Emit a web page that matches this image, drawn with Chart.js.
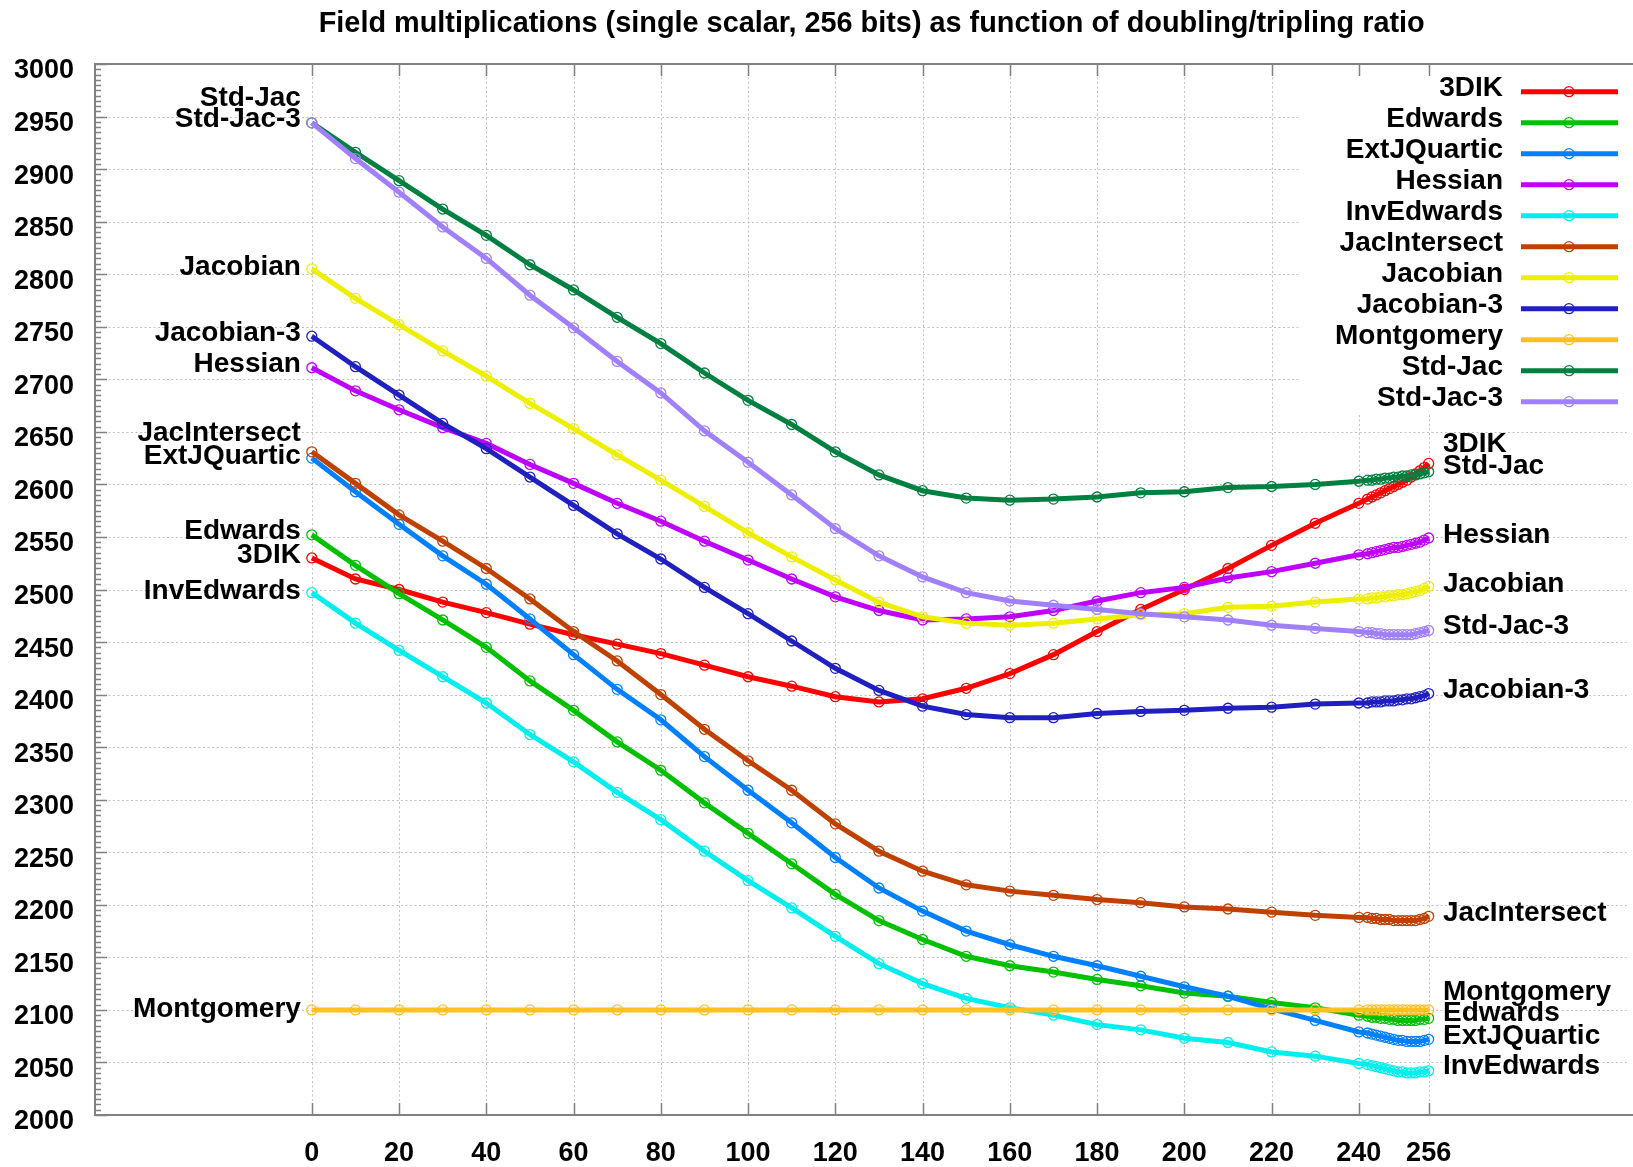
<!DOCTYPE html>
<html>
<head>
<meta charset="utf-8">
<script src="https://cdn.jsdelivr.net/npm/chart.js@4.4.1/dist/chart.umd.min.js"></script>
<style>
html,body{margin:0;padding:0;background:#ffffff;}
canvas{display:block;}
</style>
</head>
<body>
<canvas id="c" width="1633" height="1167"></canvas>
<script>
const chartTitle = "Field multiplications (single scalar, 256 bits) as function of doubling/tripling ratio";

const xValues = [0,10,20,30,40,50,60,70,80,90,100,110,120,130,140,150,160,170,180,190,200,210,220,230,240,
                 242,243,244,245,246,247,248,249,250,251,252,253,254,255,256];
const xTickValues = [0,20,40,60,80,100,120,140,160,180,200,220,240,256];

const seriesNames = ["3DIK","Edwards","ExtJQuartic","Hessian","InvEdwards","JacIntersect","Jacobian","Jacobian-3","Montgomery","Std-Jac","Std-Jac-3"];
const seriesColors = ["#ff0000","#00c000","#0080ff","#c000ff","#00eeee","#c04000","#eeee00","#2020c0","#ffc020","#008040","#a080ff"];

const vals3DIK = [2530,2510,2500,2488,2478,2467,2457,2448,2439,2428,2417,2408,2398,2393,2396,2406,2420,2438,2460,2481,2500,2520,2542,2563,2582,
                  2586,2588,2590,2592,2594,2596,2598,2600,2602,2604,2607,2610,2613,2616,2620];
const valsEdwards = [2552,2523,2496,2471,2445,2413,2385,2355,2328,2297,2268,2239,2210,2185,2167,2151,2142,2136,2129,2123,2116,2113,2107,2102,2095,
                     2094,2093,2093,2092,2092,2091,2091,2090,2090,2090,2090,2090,2091,2091,2092];
const valsExtJQuartic = [2625,2593,2562,2532,2505,2472,2438,2405,2376,2341,2309,2278,2245,2216,2194,2175,2162,2151,2142,2132,2122,2113,2101,2090,2079,
                         2078,2077,2076,2075,2074,2073,2072,2071,2071,2070,2070,2070,2070,2071,2072];
const valsHessian = [2711,2689,2671,2654,2639,2619,2601,2582,2565,2546,2528,2510,2493,2480,2471,2472,2474,2480,2489,2497,2502,2511,2517,2525,2533,
                     2534,2535,2536,2537,2538,2539,2540,2540,2541,2542,2543,2544,2545,2547,2549];
const valsInvEdwards = [2497,2468,2442,2417,2392,2362,2336,2307,2281,2251,2223,2197,2170,2144,2125,2111,2102,2095,2086,2081,2073,2069,2060,2056,2049,
                        2048,2047,2046,2045,2044,2043,2042,2041,2041,2040,2040,2040,2041,2041,2042];
const valsJacIntersect = [2631,2601,2571,2546,2520,2491,2460,2432,2400,2367,2337,2309,2277,2251,2232,2219,2213,2209,2205,2202,2198,2196,2193,2190,2188,
                          2188,2187,2187,2186,2186,2186,2185,2185,2185,2185,2185,2185,2186,2187,2189];
const valsJacobian = [2805,2777,2752,2727,2703,2677,2653,2628,2604,2579,2554,2531,2509,2488,2474,2468,2466,2468,2472,2476,2477,2483,2484,2488,2491,
                      2491,2492,2492,2493,2493,2494,2494,2495,2495,2496,2497,2498,2499,2501,2503];
const valsJacobian3 = [2741,2712,2685,2658,2634,2607,2580,2553,2529,2502,2477,2451,2425,2404,2389,2381,2378,2378,2382,2384,2385,2387,2388,2391,2392,
                       2392,2393,2393,2393,2394,2394,2394,2395,2395,2396,2396,2397,2398,2399,2401];
const valsMontgomery = [2100,2100,2100,2100,2100,2100,2100,2100,2100,2100,2100,2100,2100,2100,2100,2100,2100,2100,2100,2100,2100,2100,2100,2100,2100,
                        2100,2100,2100,2100,2100,2100,2100,2100,2100,2100,2100,2100,2100,2100,2100];
const valsStdJac = [2944,2916,2889,2862,2837,2809,2785,2759,2734,2706,2680,2657,2631,2609,2594,2587,2585,2586,2588,2592,2593,2597,2598,2600,2603,
                    2604,2604,2605,2605,2606,2606,2607,2607,2608,2608,2609,2609,2610,2611,2612];
const valsStdJac3 = [2944,2910,2878,2845,2815,2780,2749,2717,2687,2651,2621,2590,2558,2532,2512,2497,2489,2485,2481,2477,2474,2471,2466,2463,2460,
                     2459,2459,2458,2458,2457,2457,2457,2457,2457,2457,2457,2458,2459,2460,2461];

const seriesValues = [vals3DIK, valsEdwards, valsExtJQuartic, valsHessian, valsInvEdwards, valsJacIntersect,
                      valsJacobian, valsJacobian3, valsMontgomery, valsStdJac, valsStdJac3];

// end-of-line labels (text, y value in data units)
const leftLabelNames  = ["Std-Jac","Std-Jac-3","Jacobian","Jacobian-3","Hessian","JacIntersect","ExtJQuartic","Edwards","3DIK","InvEdwards","Montgomery"];
const leftLabelYs     = [2967,2947,2807,2744,2714,2649,2627,2555,2533,2498,2101];
const rightLabelNames = ["3DIK","Std-Jac","Hessian","Jacobian","Std-Jac-3","Jacobian-3","JacIntersect","Montgomery","Edwards","ExtJQuartic","InvEdwards"];
const rightLabelYs    = [2638,2617,2552,2505,2465,2404,2191.5,2117,2097,2074.5,2046];
const leftLabelX = -2.5;
const rightLabelX = 259.3;

const FONT = '"Liberation Sans", Arial, Helvetica, sans-serif';

const datasets = seriesNames.map((name, i) => ({
  label: name,
  data: xValues.map((x, j) => ({x: x, y: seriesValues[i][j]})),
  borderColor: seriesColors[i],
  backgroundColor: seriesColors[i],
  borderWidth: 5,
  pointRadius: 5,
  pointHoverRadius: 5,
  pointBorderWidth: 1.3,
  pointBorderColor: seriesColors[i],
  pointBackgroundColor: 'rgba(0,0,0,0)',
  pointStyle: 'circle',
  tension: 0,
  fill: false,
  order: seriesNames.length - i
}));

const framePlugin = {
  id: 'framePlugin',
  beforeDatasetsDraw(chart) {
    const ctx = chart.ctx;
    const a = chart.chartArea;
    const xs = chart.scales.x, ys = chart.scales.y;
    ctx.save();
    // dotted grid
    ctx.strokeStyle = '#c0c0c0';
    ctx.lineWidth = 1;
    ctx.setLineDash([2, 2.5]);
    for (let v = 2050; v < 3000; v += 50) {
      const y = Math.round(ys.getPixelForValue(v)) + 0.5;
      ctx.beginPath(); ctx.moveTo(a.left, y); ctx.lineTo(a.right, y); ctx.stroke();
    }
    xTickValues.forEach(v => {
      const x = Math.round(xs.getPixelForValue(v)) + 0.5;
      ctx.beginPath(); ctx.moveTo(x, a.top); ctx.lineTo(x, a.bottom); ctx.stroke();
    });
    ctx.setLineDash([]);
    // opaque key box
    ctx.fillStyle = '#ffffff';
    ctx.fillRect(1300, a.top + 1, chart.width - 1300, 414 - a.top);
    // frame
    ctx.strokeStyle = '#808080';
    ctx.lineWidth = 2;
    ctx.beginPath();
    ctx.moveTo(chart.width, a.top); ctx.lineTo(a.left, a.top); ctx.lineTo(a.left, a.bottom); ctx.lineTo(chart.width, a.bottom);
    ctx.stroke();
    // ticks
    ctx.lineWidth = 1.5;
    ctx.beginPath();
    xTickValues.forEach(v => {
      const x = Math.round(xs.getPixelForValue(v)) + 0.5;
      ctx.moveTo(x, a.bottom); ctx.lineTo(x, a.bottom - 12);
      ctx.moveTo(x, a.top); ctx.lineTo(x, a.top + 12);
    });
    for (let v = 2000; v <= 3000; v += 5) {
      const y = Math.round(ys.getPixelForValue(v)) + 0.5;
      const len = (v % 50 === 0) ? 12 : 6;
      ctx.moveTo(a.left, y); ctx.lineTo(a.left + len, y);
    }
    ctx.stroke();
    ctx.restore();
  },
  afterDatasetsDraw(chart) {
    const ctx = chart.ctx;
    const xs = chart.scales.x, ys = chart.scales.y;
    ctx.save();
    ctx.fillStyle = '#000000';
    ctx.font = 'bold 28px ' + FONT;
    ctx.textBaseline = 'middle';
    // end labels
    ctx.textAlign = 'right';
    leftLabelNames.forEach((t, i) => {
      ctx.fillText(t, xs.getPixelForValue(leftLabelX), ys.getPixelForValue(leftLabelYs[i]));
    });
    ctx.textAlign = 'left';
    rightLabelNames.forEach((t, i) => {
      ctx.fillText(t, xs.getPixelForValue(rightLabelX), ys.getPixelForValue(rightLabelYs[i]));
    });
    // key
    chart.data.datasets.forEach((ds, i) => {
      const y = 91.7 + 31 * i;
      ctx.fillStyle = '#000000';
      ctx.textAlign = 'right';
      ctx.fillText(ds.label, 1503, y - 3);
      ctx.strokeStyle = ds.borderColor;
      ctx.lineWidth = 5;
      ctx.beginPath(); ctx.moveTo(1521, y); ctx.lineTo(1618, y); ctx.stroke();
      ctx.lineWidth = 1.3;
      ctx.beginPath(); ctx.arc(1569, y, 5, 0, Math.PI * 2); ctx.stroke();
    });
    // title
    ctx.fillStyle = '#000000';
    ctx.textAlign = 'center';
    ctx.textBaseline = 'alphabetic';
    ctx.font = 'bold 30px ' + FONT;
    ctx.fillText(chartTitle, 871.7, 32, 1106);
    ctx.restore();
  }
};

new Chart(document.getElementById('c'), {
  type: 'line',
  data: { datasets: datasets },
  options: {
    responsive: false,
    devicePixelRatio: 1,
    animation: false,
    events: [],
    layout: { padding: { top: 64, right: 0, left: 0, bottom: 0 } },
    plugins: { legend: { display: false }, title: { display: false }, tooltip: { enabled: false } },
    scales: {
      x: {
        type: 'linear',
        min: -49.7,
        max: 301.4,
        afterFit: s => { s.height = 52; },
        afterBuildTicks: s => { s.ticks = xTickValues.map(v => ({ value: v })); },
        grid: { display: false, drawTicks: false },
        border: { display: false },
        ticks: {
          autoSkip: false, maxRotation: 0, minRotation: 0,
          padding: 22,
          color: '#000000',
          font: { family: FONT, size: 27, weight: 'bold' },
          callback: v => String(v)
        }
      },
      y: {
        type: 'linear',
        min: 2000,
        max: 3000,
        afterFit: s => { s.width = 95; },
        grid: { display: false, drawTicks: false },
        border: { display: false },
        ticks: {
          stepSize: 50,
          padding: 21,
          labelOffset: 7,
          color: '#000000',
          font: { family: FONT, size: 27, weight: 'bold' },
          callback: v => String(v)
        }
      }
    }
  },
  plugins: [framePlugin]
});
</script>
</body>
</html>
